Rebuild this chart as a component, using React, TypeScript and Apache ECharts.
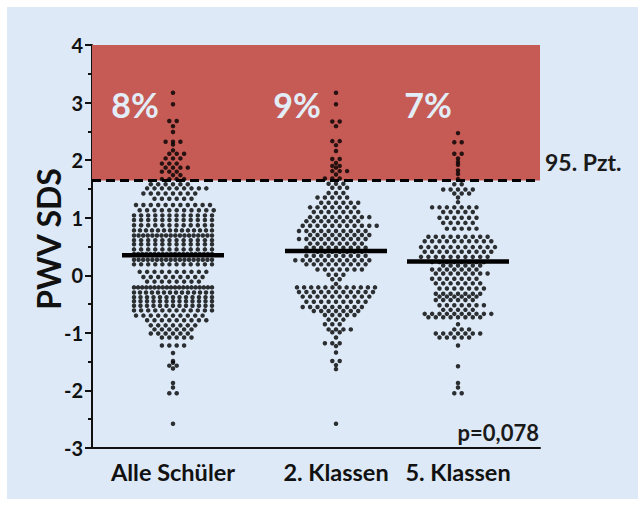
import { useEffect, useRef } from "react";
import * as echarts from "echarts";

// ---------- data ----------
const categories = ["Alle Schüler", "2. Klassen", "5. Klassen"];
const percentAbove = ["8%", "9%", "7%"];
const meanValues = [0.35, 0.42, 0.24];
const threshold95 = 1.645;
const thresholdLabel = "95. Pzt.";
const pValueLabel = "p=0,078";
const yTickValues = [-3, -2, -1, 0, 1, 2, 3, 4];

// beeswarm rows: y value of the row and the number of dots in it
const alleRowValues = [
  3.17, 2.97, 2.68, 2.59, 2.49, 2.32, 2.27, 2.17, 2.11, 2.03, 1.94, 1.87, 1.8, 1.74, 1.67,
  1.58, 1.51, 1.42, 1.33, 1.22, 1.13, 1.04, 0.96, 0.87, 0.78, 0.69, 0.61, 0.54, 0.45, 0.37,
  0.27, 0.19, 0.06, -0.03, -0.11, -0.21, -0.3, -0.38, -0.45, -0.53, -0.61, -0.7, -0.78,
  -0.87, -0.94, -1.01, -1.08, -1.22, -1.35, -1.49, -1.52, -1.57, -1.62, -1.87, -1.95, -2.05,
  -2.58,
];
const alleRowCounts = [
  1, 1, 2, 1, 1, 3, 1, 1, 3, 3, 3, 4, 3, 2, 4,
  6, 9, 8, 6, 11, 11, 12, 12, 12, 14, 18, 12, 12, 12, 20,
  18, 12, 10, 9, 8, 20, 14, 13, 13, 13, 12, 10, 9,
  7, 6, 6, 5, 4, 1, 1, 1, 2, 1, 1, 1, 2,
  1,
];

const klasse2RowValues = [
  3.17, 2.97, 2.67, 2.59, 2.33, 2.26, 2.16, 2.02, 1.95, 1.9, 1.87, 1.81, 1.75, 1.68,
  1.59, 1.52, 1.43, 1.35, 1.26, 1.18, 1.1, 1.01, 0.94, 0.86, 0.77, 0.7, 0.63, 0.55, 0.48,
  0.41, 0.34, 0.26, 0.19, 0.1, 0.01, -0.07, -0.15, -0.21, -0.29, -0.37, -0.46, -0.55, -0.62,
  -0.69, -0.77, -0.85, -0.94, -0.99, -1.08, -1.18, -1.23, -1.34, -1.49, -1.56, -1.63, -2.58,
];
const klasse2RowCounts = [
  1, 1, 2, 1, 2, 1, 1, 2, 1, 2, 1, 3, 1, 3,
  3, 3, 3, 5, 6, 7, 7, 9, 8, 11, 10, 9, 10, 8, 9,
  7, 9, 11, 9, 7, 3, 2, 1, 12, 11, 10, 9, 9, 7,
  5, 3, 3, 4, 2, 1, 3, 1, 1, 2, 1, 1, 1,
];

const klasse5RowValues = [
  2.47, 2.31, 2.11, 2.03, 1.97, 1.92, 1.82, 1.76, 1.67,
  1.58, 1.49, 1.42, 1.35, 1.27, 1.18, 1.1, 1.0, 0.91, 0.81, 0.67, 0.59, 0.49, 0.41, 0.32,
  0.23, 0.17, 0.1, 0.03, -0.06, -0.14, -0.23, -0.32, -0.37, -0.43, -0.52, -0.6, -0.67,
  -0.73, -0.85, -0.94, -1.01, -1.08, -1.22, -1.58, -1.87, -1.95, -2.05,
];
const klasse5RowCounts = [
  1, 2, 2, 1, 1, 1, 1, 1, 1,
  2, 5, 3, 1, 1, 7, 5, 6, 5, 5, 9, 10, 11, 10, 10,
  8, 6, 7, 8, 7, 7, 7, 7, 6, 6, 7, 5, 10,
  8, 1, 3, 7, 5, 1, 1, 1, 1, 2,
];

// ---------- layout ----------
const PLOT_W = 448; // x axis runs in pixel units across the plot
const PX_PER_UNIT = 403 / 7;
const groupCenters = [81, 244, 366];
const DOT_SPACING = 7.4;
const MAX_ROW_WIDTH = 78;
const MEAN_HALF = 51;
const FONT = "Lato, 'Open Sans', sans-serif";
const INK = "#111111";

// row-wise beeswarm with hexagonal staggering of neighbouring rows
function swarm(values: number[], counts: number[], center: number) {
  const pts: number[][] = [];
  let prevPhase = 0;
  let prevV = Infinity;
  let sign = 1;
  values.forEach((v, r) => {
    const n = counts[r];
    const step = n > 1 ? Math.min(DOT_SPACING, MAX_ROW_WIDTH / (n - 1)) : DOT_SPACING;
    const natural = n % 2 === 0 ? 0.5 : 0;
    let shift = 0;
    let phase = natural;
    const close = Math.abs(prevV - v) * PX_PER_UNIT < 7;
    if (close && step === DOT_SPACING && n > 1) {
      const desired = prevPhase === 0 ? 0.5 : 0;
      if (desired !== natural) {
        shift = (sign * step) / 2;
        sign = -sign;
      }
      phase = desired;
    }
    for (let i = 0; i < n; i++) pts.push([center + (i - (n - 1) / 2) * step + shift, v]);
    prevPhase = phase;
    prevV = v;
  });
  return pts;
}

export default function App() {
  const ref = useRef<HTMLDivElement>(null);
  useEffect(() => {
    if (!ref.current) return;
    const chart = echarts.init(ref.current, null, { renderer: "svg" });
    const groups = [
      swarm(alleRowValues, alleRowCounts, groupCenters[0]),
      swarm(klasse2RowValues, klasse2RowCounts, groupCenters[1]),
      swarm(klasse5RowValues, klasse5RowCounts, groupCenters[2]),
    ];
    const series: any[] = [
      {
        type: "line",
        data: [],
        z: 1,
        silent: true,
        markArea: {
          silent: true,
          itemStyle: { color: "#c65b55", opacity: 1 },
          data: [[{ yAxis: threshold95, xAxis: 0 }, { yAxis: 4, xAxis: PLOT_W }]],
        },
        markLine: {
          silent: true,
          symbol: "none",
          label: { show: false },
          lineStyle: { color: "#000", width: 3, type: [9, 5] },
          data: [{ yAxis: threshold95 }],
        },
      },
    ];
    groups.forEach((pts) => {
      series.push({
        type: "scatter",
        data: pts,
        symbol: "circle",
        symbolSize: 4.5,
        itemStyle: { color: "#000000" },
        z: 3,
        silent: true,
      });
    });
    meanValues.forEach((m, i) => {
      series.push({
        type: "line",
        data: [
          [groupCenters[i] - MEAN_HALF, m],
          [groupCenters[i] + MEAN_HALF, m],
        ],
        symbol: "none",
        lineStyle: { color: "#000", width: 4.5 },
        z: 4,
        silent: true,
      });
    });

    const percentX = [135, 297, 428];
    chart.setOption({
      animation: false,
      backgroundColor: "#ffffff",
      grid: { left: 92, top: 45, width: PLOT_W, height: 403, containLabel: false },
      xAxis: {
        type: "value",
        min: 0,
        max: PLOT_W,
        axisLine: { show: true, onZero: false, lineStyle: { color: INK, width: 2 } },
        axisTick: { show: false },
        splitLine: { show: false },
        axisLabel: {
          customValues: groupCenters,
          formatter: (v: number) => {
            const k = groupCenters.indexOf(Math.round(v));
            return k >= 0 ? categories[k] : "";
          },
          color: INK,
          fontFamily: FONT,
          fontWeight: "bold",
          fontSize: 23.5,
          margin: 12,
        },
      },
      yAxis: {
        type: "value",
        min: -3,
        max: 4,
        interval: 1,
        axisLine: { show: true, onZero: false, lineStyle: { color: INK, width: 2 } },
        axisTick: { show: true, length: 7, lineStyle: { color: INK, width: 2 } },
        minorTick: { show: true, splitNumber: 2, length: 4, lineStyle: { color: INK, width: 2 } },
        splitLine: { show: false },
        axisLabel: {
          customValues: yTickValues,
          color: INK,
          fontFamily: FONT,
          fontWeight: "bold",
          fontSize: 20,
          margin: 9,
        },
      },
      graphic: [
        {
          type: "rect",
          z: -100,
          silent: true,
          shape: { x: 7, y: 7, width: 631, height: 492 },
          style: { fill: "#dde9f6" },
        },
        {
          type: "text",
          x: 48,
          y: 239,
          rotation: Math.PI / 2,
          z: 100,
          style: {
            text: "PWV SDS",
            font: `bold 32px ${FONT}`,
            fill: INK,
            textAlign: "center",
            textVerticalAlign: "middle",
          },
        },
        ...percentAbove.map((t, i) => ({
          type: "text",
          x: percentX[i],
          y: 104,
          z: 100,
          style: {
            text: t,
            font: `bold 34px ${FONT}`,
            fill: "#e3edf8",
            textAlign: "center",
            textVerticalAlign: "middle",
          },
        })),
        {
          type: "text",
          x: 545,
          y: 162,
          z: 100,
          style: {
            text: thresholdLabel,
            font: `bold 23px ${FONT}`,
            fill: "#1a1a1a",
            textAlign: "left",
            textVerticalAlign: "middle",
          },
        },
        {
          type: "text",
          x: 539,
          y: 432,
          z: 100,
          style: {
            text: pValueLabel,
            font: `bold 22px ${FONT}`,
            fill: "#1a1a1a",
            textAlign: "right",
            textVerticalAlign: "middle",
          },
        },
      ],
      series,
    });
    return () => chart.dispose();
  }, []);
  return (
    <div
      ref={ref}
      style={{ position: "fixed", left: 0, top: 0, width: 644, height: 505 }}
    />
  );
}
